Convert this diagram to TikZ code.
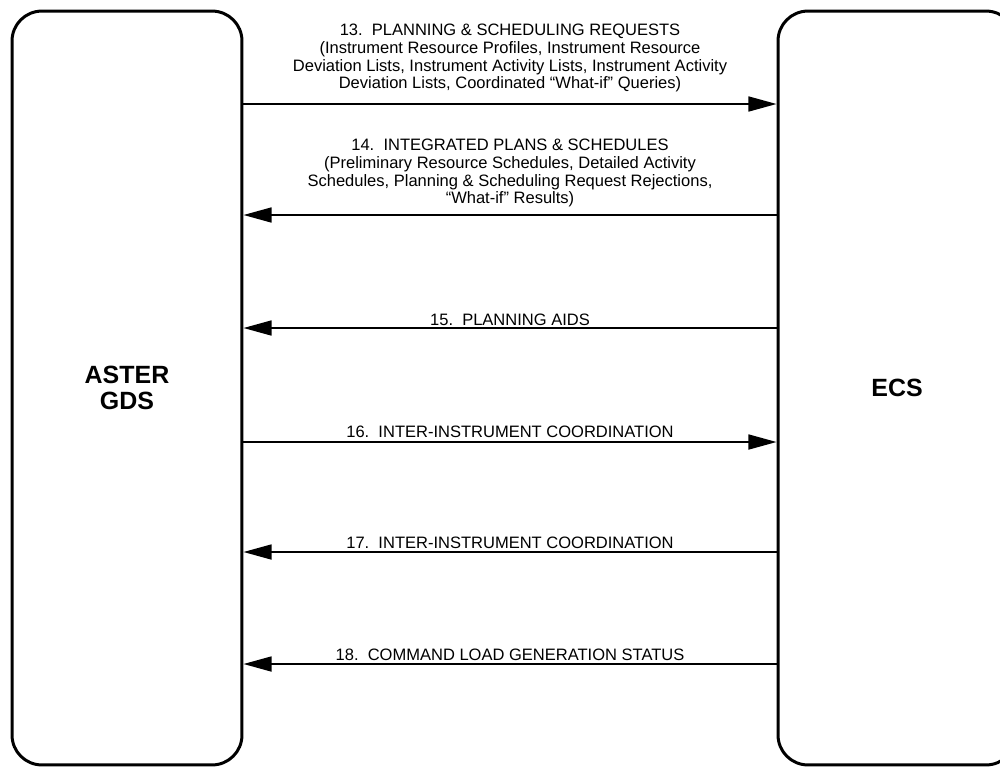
\documentclass[tikz,border=0pt]{standalone}
\usepackage{fontspec}
\setmainfont{Liberation Sans}
\usetikzlibrary{arrows.meta}
\begin{document}
\begin{tikzpicture}[x=0.02cm,y=-0.02cm,
  box/.style={draw, line width=1.7pt, rounded corners=17pt, font=\fontsize{14.2}{14.5}\selectfont\bfseries, align=center, inner sep=0pt},
  arr/.style={line width=1.1pt, -{Triangle[length=16pt,width=8.5pt]}},
  lbl/.style={font=\fontsize{9.4}{10.2}\selectfont, align=center, inner sep=0pt}]
\useasboundingbox (0,0) rectangle (1000,768);
\node[box, minimum width=4.6cm, minimum height=15.08cm] (gds) at (127,388) {ASTER\\GDS};
\node[box, minimum width=4.76cm, minimum height=15.08cm] (ecs) at (897,388) {ECS};
\foreach \n/\y in {13/104,14/215,15/328,16/442,17/552,18/664} {\coordinate (y\n) at (0,\y);}
\draw[arr] (gds.east |- y13) -- (ecs.west |- y13);
\draw[arr] (ecs.west |- y14) -- (gds.east |- y14);
\draw[arr] (ecs.west |- y15) -- (gds.east |- y15);
\draw[arr] (gds.east |- y16) -- (ecs.west |- y16);
\draw[arr] (ecs.west |- y17) -- (gds.east |- y17);
\draw[arr] (ecs.west |- y18) -- (gds.east |- y18);
\node[lbl] (l13) at (510,58) {13.\ \ PLANNING \& SCHEDULING REQUESTS\\(Instrument Resource Profiles, Instrument Resource\\Deviation Lists, Instrument Activity Lists, Instrument Activity\\Deviation Lists, Coordinated ``What-if'' Queries)};
\node[lbl] (l14) at (510,173) {14.\ \ INTEGRATED PLANS \& SCHEDULES\\(Preliminary Resource Schedules, Detailed Activity\\Schedules, Planning \& Scheduling Request Rejections,\\``What-if'' Results)};
\node[lbl] (l15) at (510,320) {15.\ \ PLANNING AIDS};
\node[lbl] (l16) at (510,432) {16.\ \ INTER-INSTRUMENT COORDINATION};
\node[lbl] (l17) at (510,543) {17.\ \ INTER-INSTRUMENT COORDINATION};
\node[lbl] (l18) at (510,655) {18.\ \ COMMAND LOAD GENERATION STATUS};
\end{tikzpicture}
\end{document}
